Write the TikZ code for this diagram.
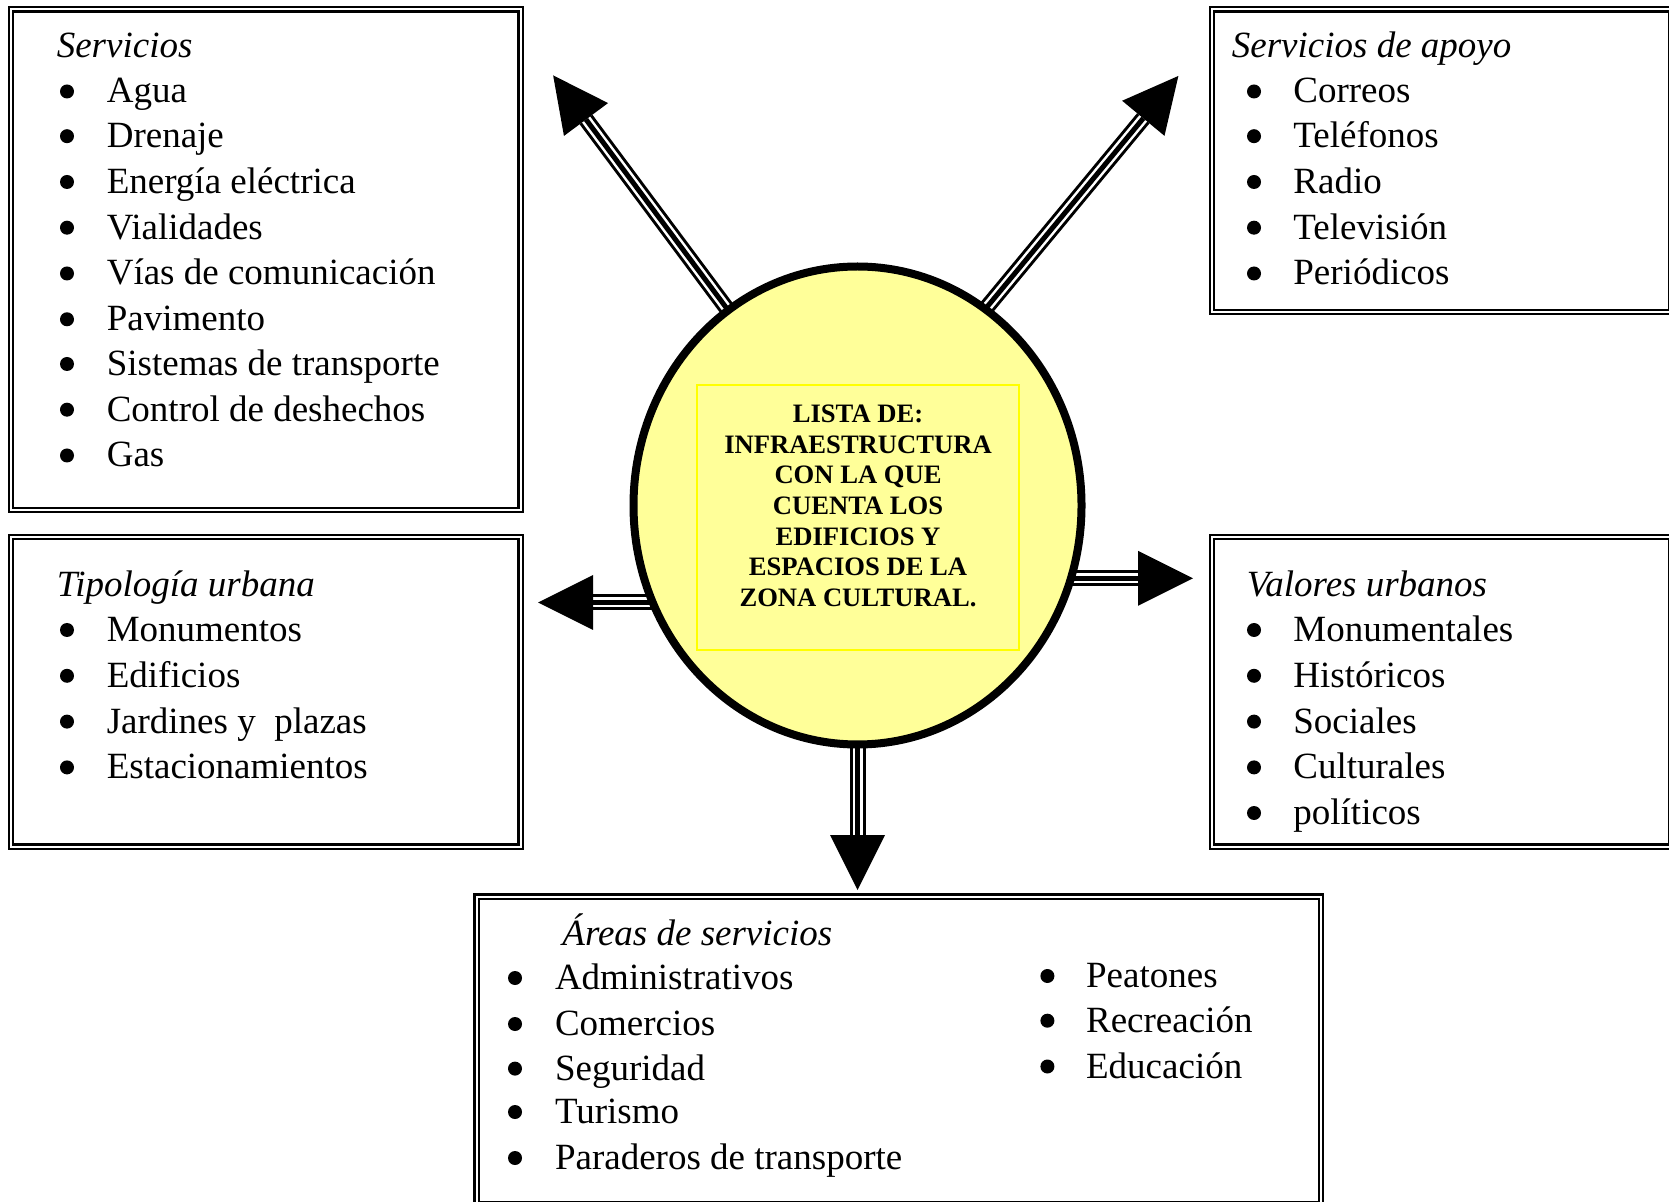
\documentclass[tikz,border=0pt]{standalone}
\usepackage{fontspec}
\setmainfont{Liberation Serif}
\usetikzlibrary{shapes.geometric,calc,fit}
\definecolor{circfill}{HTML}{FFFF99}
\definecolor{rectline}{HTML}{FFFF00}
\tikzset{
  dbox/.style={draw, double, double distance=1pt, line width=1.2pt, inner sep=0pt},
  item/.style={anchor=base west, inner sep=0pt, font=\fontsize{18.5pt}{22pt}\selectfont},
  head/.style={anchor=base west, inner sep=0pt, font=\fontsize{18.5pt}{22pt}\selectfont\itshape},
  bul/.style={circle, fill, inner sep=0pt, minimum size=7pt},
  ctext/.style={anchor=base, inner sep=0pt, font=\fontsize{13.3pt}{15.35pt}\selectfont\bfseries},
}
\newcommand\bigarrow[2]{%
  \draw[line width=8pt] (#1) -- (#2);
  \draw[white, line width=5pt] (#1) -- (#2);
  \draw[line width=2.5pt] (#1) -- (#2);
  \fill ($(#2)!27.5pt!180:(#1)$) -- ($(#2)!13.75pt!90:(#1)$) -- ($(#2)!13.75pt!-90:(#1)$) -- cycle;
}
\begin{document}
\begin{tikzpicture}[x=0.5pt,y=-0.5pt]
\useasboundingbox (0,0) rectangle (1669,1202);
\begin{scope}
\clip (0,0) rectangle (1669,1202);
% boxes
\node[dbox, fit={(11,9.5) (520.5,510)}] (serv) {};
\node[dbox, fit={(1212,9.5) (1671,312)}] (apoyo) {};
\node[dbox, fit={(11,537) (520.5,846.5)}] (tipo) {};
\node[dbox, fit={(1212,537) (1671,846.5)}] (valores) {};
\node[dbox, fit={(476.5,896.5) (1321,1204)}] (areas) {};
\end{scope}

% arrows
\coordinate (ulS) at (757,349);    \coordinate (ulM) at (586,119.5);
\coordinate (urS) at (958,342);    \coordinate (urM) at (1143.3,118.3);
\coordinate (lS) at (680,602.5);   \coordinate (lM) at (593,602.5);
\coordinate (rS) at (1050,578.3);  \coordinate (rM) at (1138,578.3);
\coordinate (dS) at (857.5,720);   \coordinate (dM) at (857.5,835);
\bigarrow{ulS}{ulM}
\bigarrow{urS}{urM}
\bigarrow{lS}{lM}
\bigarrow{rS}{rM}
\bigarrow{dS}{dM}

% centre
\node[ellipse, draw, line width=4pt, fill=circfill, minimum width=224pt, minimum height=239pt, inner sep=0pt] (c) at (857.5,505.5) {};
\node[draw=rectline, line width=0.6pt, fill=circfill, fit={(697,385) (1019,650)}, inner sep=0pt] (lista) {};
\foreach \i/\t in {0/LISTA DE:, 1/INFRAESTRUCTURA, 2/CON LA QUE, 3/CUENTA LOS, 4/EDIFICIOS Y, 5/ESPACIOS DE LA, 6/ZONA CULTURAL.}
  \node[ctext] at (858,422.5+\i*30.7) {\t};

% Servicios
\node[head] (h1) at (56.4,57.2) {Servicios};
\foreach \y/\t in {103/Agua, 147.7/Drenaje, 193.5/Energía eléctrica, 239.2/Vialidades, 285/Vías de comunicación, 330.8/Pavimento, 375.5/Sistemas de transporte, 421.2/Control de deshechos, 467/Gas} {
  \node[bul] at (67,\y-11.5) {};
  \node[item] at (106.4,\y) {\t};
}
% Servicios de apoyo
\node[head] (h2) at (1231.5,57.2) {Servicios de apoyo};
\foreach \y/\t in {103/Correos, 147.7/Teléfonos, 193.5/Radio, 239.2/Televisión, 285/Periódicos} {
  \node[bul] at (1254,\y-11.5) {};
  \node[item] at (1293,\y) {\t};
}
% Tipologia urbana
\node[head] (h3) at (56.4,596.9) {Tipología urbana};
\foreach \y/\t in {641.5/Monumentos, 687.3/Edificios, 733.1/Jardines y\ \ plazas, 778.9/Estacionamientos} {
  \node[bul] at (67,\y-11.5) {};
  \node[item] at (106.4,\y) {\t};
}
% Valores urbanos
\node[head] (h4) at (1246.5,596.9) {Valores urbanos};
\foreach \y/\t in {641.5/Monumentales, 687.3/Históricos, 733.1/Sociales, 778.9/Culturales, 824.5/políticos} {
  \node[bul] at (1254,\y-11.5) {};
  \node[item] at (1293,\y) {\t};
}
% Areas de servicios
\node[head] (h5) at (562,945) {Áreas de servicios};
\foreach \y/\t in {989.5/Administrativos, 1035.5/Comercios, 1080.1/Seguridad, 1123.5/Turismo, 1169.5/Paraderos de transporte} {
  \node[bul] at (515,\y-11.5) {};
  \node[item] at (554.6,\y) {\t};
}
\foreach \y/\t in {987.5/Peatones, 1032.2/Recreación, 1078/Educación} {
  \node[bul] at (1047.4,\y-11.5) {};
  \node[item] at (1085.7,\y) {\t};
}
\end{tikzpicture}
\end{document}
